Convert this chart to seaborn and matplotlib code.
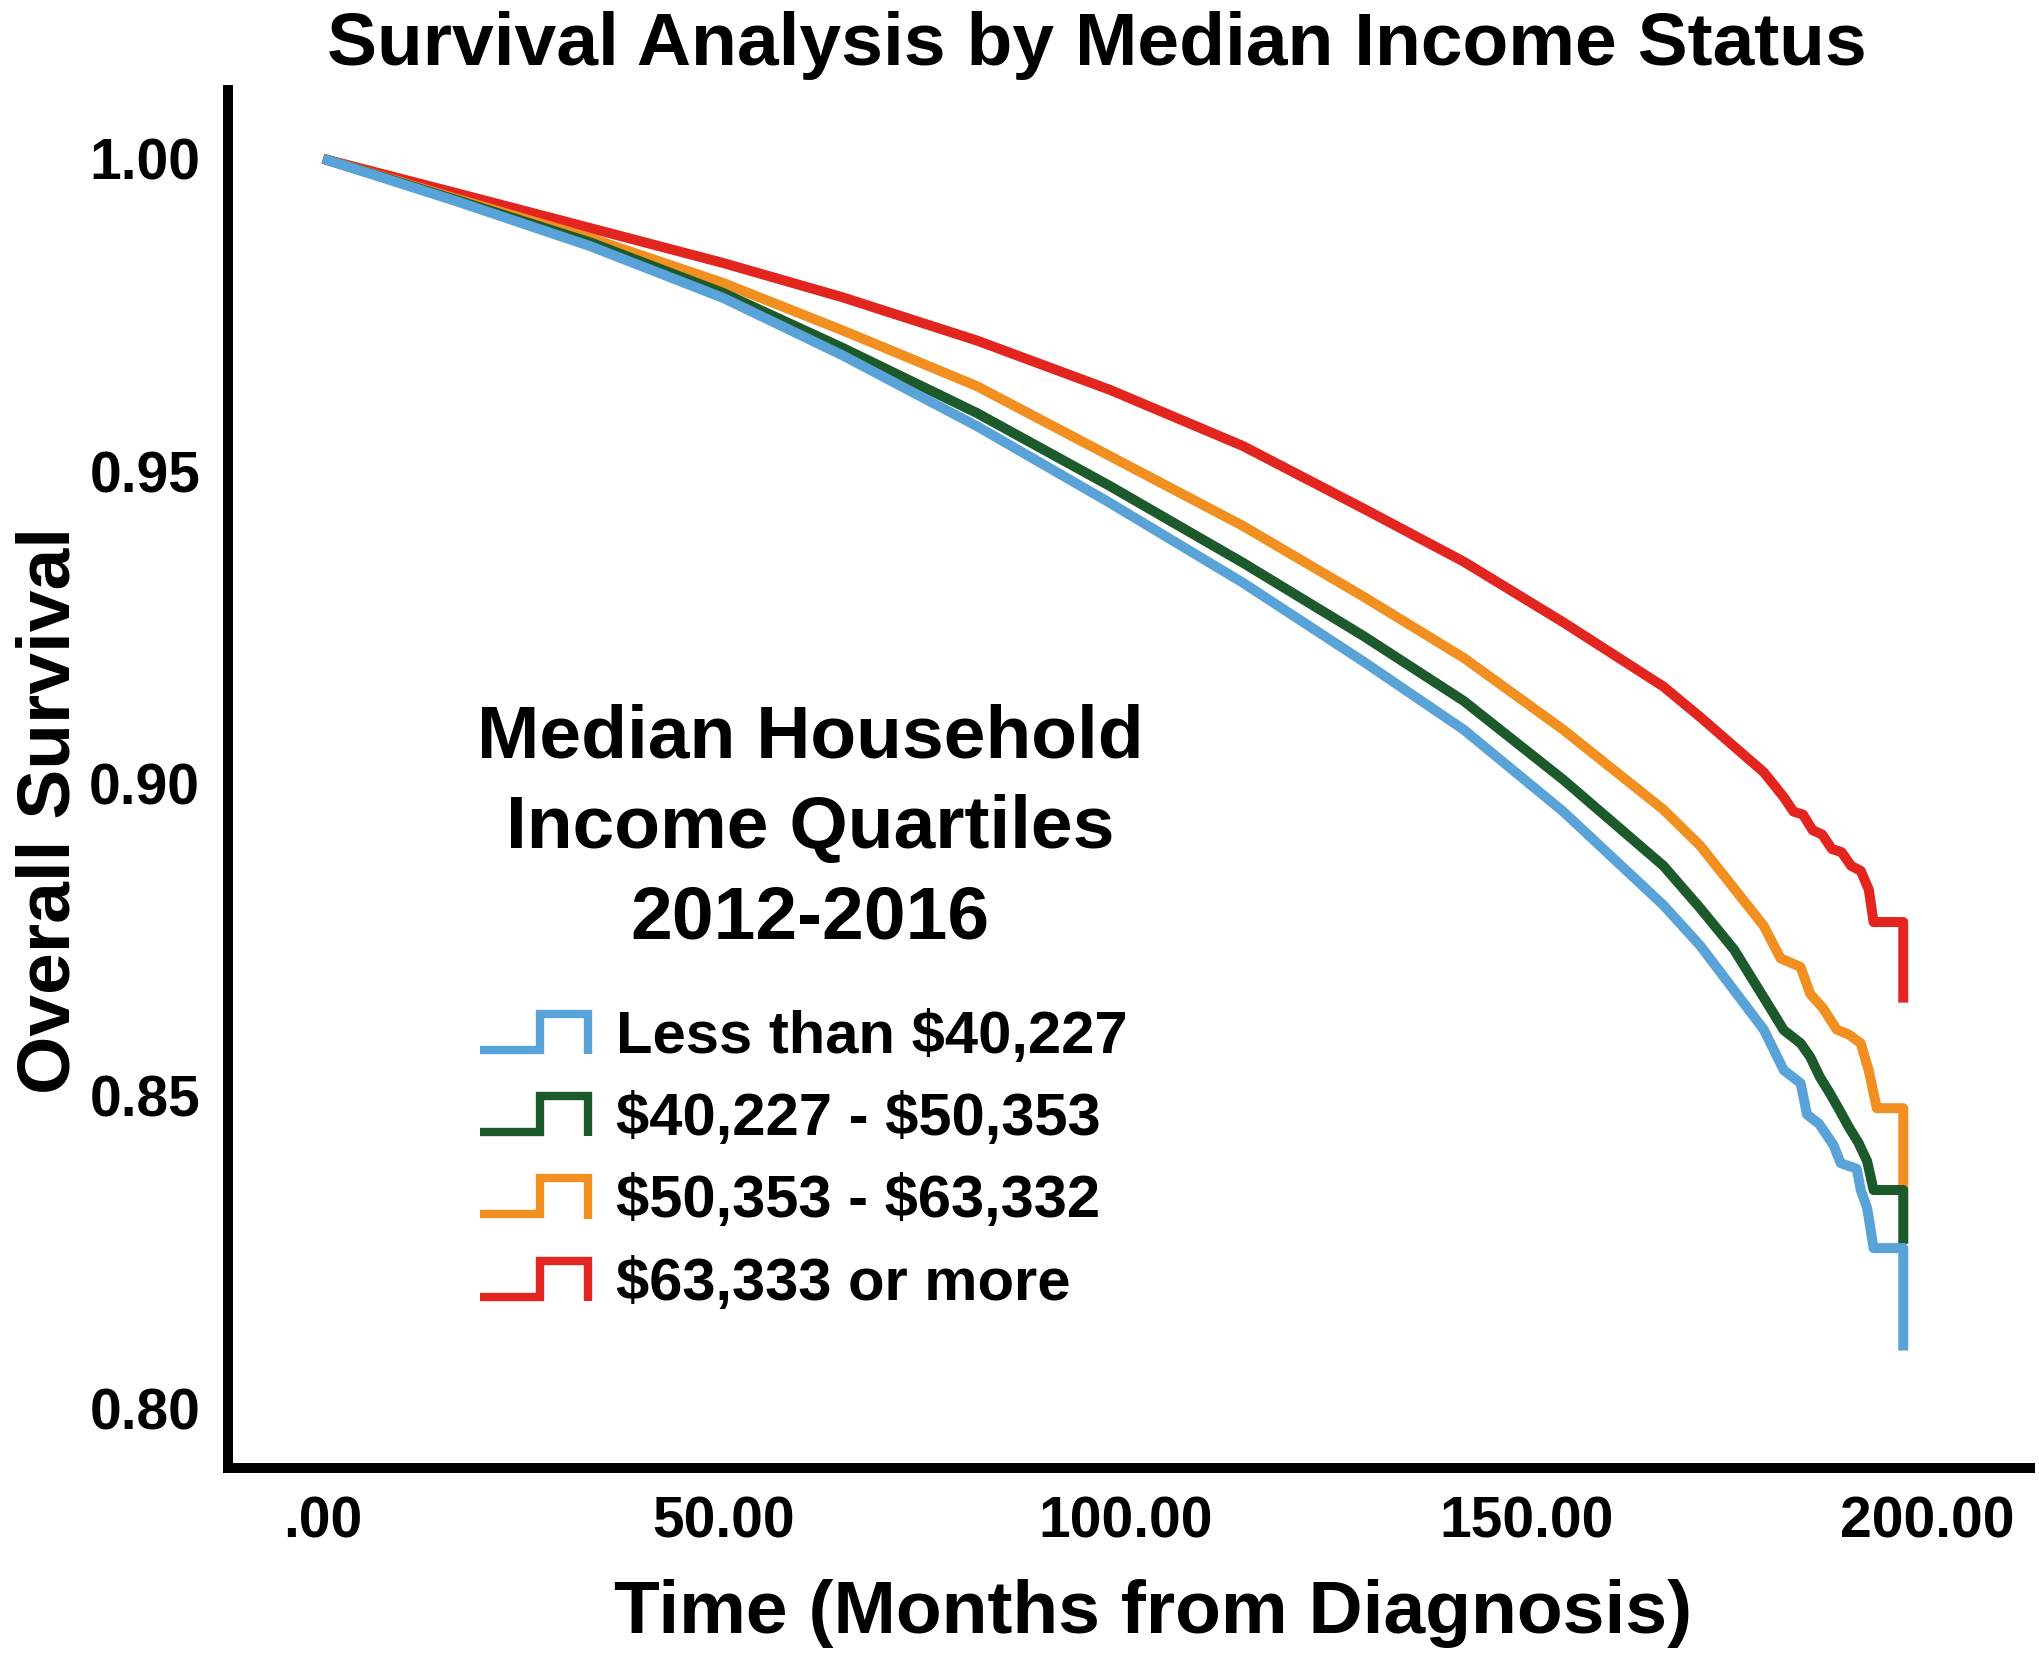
import numpy as np
import pandas as pd
import matplotlib
matplotlib.use('Agg')
import matplotlib.pyplot as plt
import seaborn as sns
from matplotlib.lines import Line2D
from matplotlib.legend_handler import HandlerBase

# ---------------- data ----------------
groups = ['Less than $40,227', '$40,227 - $50,353', '$50,353 - $63,332', '$63,333 or more']
colors = ['#5AA3D8', '#1D5A2B', '#F18F21', '#E2261F']

t_q1 = [0, 16.6, 33.3, 49.9, 64.8, 81.5, 98.1, 114.7, 129.7, 142.2, 154.6, 167.1, 171.7, 179.6,
        182.1, 184.2, 185.0, 186.5, 188.3, 189.2, 191.2, 191.7, 192.5, 193.3, 197.0, 197.0]
s_q1 = [1.0, .9932, .9860, .9777, .9685, .9572, .9449, .9321, .9195, .9086, .8955, .8805, .8740,
        .8606, .8541, .8520, .8470, .8455, .8421, .8392, .8383, .8349, .8320, .8256, .8256, .8092]

t_q2 = [0, 16.6, 33.3, 49.9, 64.8, 81.5, 98.1, 114.7, 129.7, 142.2, 154.6, 167.1, 171.7, 175.9,
        180.0, 182.1, 184.2, 185.4, 186.6, 187.8, 189.0, 190.2, 191.4, 192.5, 193.3, 197.0, 197.0]
s_q2 = [1.0, .9934, .9866, .9785, .9697, .9593, .9476, .9353, .9236, .9132, .9006, .8868, .8800,
        .8734, .8649, .8605, .8584, .8562, .8530, .8505, .8478, .8450, .8425, .8395, .8349, .8349,
        .8263]

t_q3 = [0, 16.6, 33.3, 49.9, 64.8, 81.5, 98.1, 114.7, 129.7, 142.2, 154.6, 167.1, 171.7, 179.6,
        181.7, 184.2, 185.4, 187.0, 188.7, 190.2, 191.7, 192.7, 193.7, 197.0, 197.0]
s_q3 = [1.0, .9936, .9873, .9801, .9725, .9636, .9524, .9412, .9299, .9201, .9086, .8958, .8900,
        .8772, .8720, .8706, .8663, .8640, .8606, .8598, .8584, .8540, .8480, .8480, .8349]

t_q4 = [0, 16.6, 33.3, 49.9, 64.8, 81.5, 98.1, 114.7, 129.7, 142.2, 154.6, 167.1, 171.7, 179.6,
        182.1, 183.3, 184.5, 185.7, 186.9, 188.1, 189.3, 190.5, 191.7, 192.7, 193.3, 197.0, 197.0]
s_q4 = [1.0, .9945, .9889, .9833, .9778, .9709, .9630, .9540, .9440, .9355, .9258, .9155, .9106,
        .9018, .8978, .8955, .8950, .8925, .8918, .8895, .8890, .8868, .8860, .8830, .8778, .8778,
        .8649]

x_ticks = [0, 50, 100, 150, 200]
x_tick_labels = ['.00', '50.00', '100.00', '150.00', '200.00']
y_ticks = [0.80, 0.85, 0.90, 0.95, 1.00]
y_tick_labels = ['0.80', '0.85', '0.90', '0.95', '1.00']

title = 'Survival Analysis by Median Income Status'
x_label = 'Time (Months from Diagnosis)'
y_label = 'Overall Survival'
legend_title = 'Median Household\nIncome Quartiles\n2012-2016'

# ---------------- style ----------------
sns.set_style('white')
plt.rcParams['font.family'] = ['Liberation Sans', 'DejaVu Sans']
plt.rcParams['font.weight'] = 'bold'
for key in ['text.color', 'axes.labelcolor', 'xtick.color', 'ytick.color']:
    plt.rcParams[key] = 'black'

times = [t_q1, t_q2, t_q3, t_q4]
survs = [s_q1, s_q2, s_q3, s_q4]
rows = []
for g, tt, ss in zip(groups, times, survs):
    for i, (a, b) in enumerate(zip(tt, ss)):
        rows.append((g, i, a, b))
df = pd.DataFrame(rows, columns=['group', 'order', 'time', 'survival'])

W, H = 2040, 1657
fig = plt.figure(figsize=(W / 100, H / 100), dpi=100)
ax = fig.add_axes([228 / W, 1 - 1468 / H, (2030 - 228) / W, (1468 - 90) / H])

for k in [3, 2, 1, 0]:
    sub = df[df['group'] == groups[k]]
    sns.lineplot(data=sub, x='time', y='survival', color=colors[k], lw=7.2,
                 estimator=None, sort=False, ax=ax, legend=False,
                 solid_capstyle='butt')

ax.set_xlim(-11.85, 212.8)
ax.set_ylim(0.7904, 1.011)
ax.set_xticks(x_ticks)
ax.set_xticklabels(x_tick_labels)
ax.set_yticks(y_ticks)
ax.set_yticklabels(y_tick_labels)
ax.tick_params(axis='both', length=0, labelsize=41, colors='black')
ax.tick_params(axis='y', pad=20)
ax.tick_params(axis='x', pad=20)
for lab in ax.get_xticklabels() + ax.get_yticklabels():
    lab.set_fontweight('bold')
ax.set_xlabel('')
ax.set_ylabel('')
ax.grid(False)
for side in ['top', 'right']:
    ax.spines[side].set_visible(False)
for side in ['left', 'bottom']:
    ax.spines[side].set_linewidth(7.2)
    ax.spines[side].set_color('black')
    ax.spines[side].set_capstyle('projecting')

# texts
fig.text(1097 / W, 1 - 65 / H, title, ha='center', va='baseline', fontsize=54,
         fontweight='bold', color='black')
fig.text(1153 / W, 1 - 1633 / H, x_label, ha='center', va='baseline', fontsize=54,
         fontweight='bold', color='black')
fig.text(70 / W, 1 - 810 / H, y_label, rotation=90, rotation_mode='anchor', ha='center',
         va='baseline', fontsize=54, fontweight='bold', color='black')
fig.text(810 / W, 1 - 939 / H, legend_title, ha='center', va='baseline', multialignment='center',
         fontsize=54, fontweight='bold', linespacing=1.4, color='black')


class StepHandler(HandlerBase):
    def create_artists(self, legend, orig_handle, xdescent, ydescent, width, height, fontsize, trans):
        x0, y0 = -xdescent, -ydescent
        xs = [x0, x0 + 0.535 * width, x0 + 0.535 * width, x0 + 0.96 * width, x0 + 0.96 * width]
        ys = [y0 + 0.07 * height, y0 + 0.07 * height, y0 + 0.93 * height, y0 + 0.93 * height,
              y0 - 0.03 * height]
        line = Line2D(xs, ys, color=orig_handle.get_color(), lw=6, solid_joinstyle='miter',
                      solid_capstyle='butt')
        line.set_transform(trans)
        return [line]


handles = [Line2D([], [], color=c) for c in colors]
labels = [g.replace('$', r'\$') for g in groups]
leg = ax.legend(handles, labels, handler_map={Line2D: StepHandler()}, loc='upper left',
                bbox_to_anchor=(480 / W, 1 - 1010 / H), bbox_transform=fig.transFigure,
                frameon=False, prop={'size': 43, 'weight': 'bold'}, handlelength=1.88,
                handletextpad=0.4, labelspacing=0.455, borderpad=0, borderaxespad=0)
for txt in leg.get_texts():
    txt.set_color('black')

fig.savefig('out.png', dpi=100)
